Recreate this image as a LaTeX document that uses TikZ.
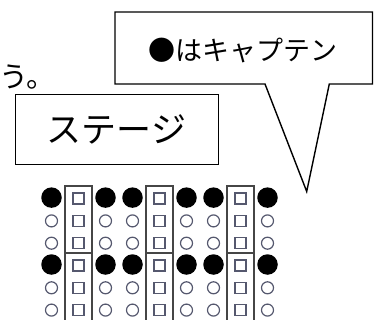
\documentclass[tikz,border=0pt]{standalone}
\usepackage{fontspec}
\newfontfamily\jp{Noto Sans CJK JP}
\definecolor{ring}{RGB}{85,88,110}
\definecolor{boxline}{RGB}{70,70,70}
\tikzset{
  outline/.style={draw=black,line width=1.4pt},
  jptext/.style={inner sep=0pt,font=\jp},
  fillcirc/.style={circle,fill=black,minimum size=20.5pt,inner sep=0pt},
  smallcirc/.style={circle,draw=ring,line width=1.2pt,minimum size=12pt,inner sep=0pt},
  smallsq/.style={rectangle,draw=ring,line width=1.3pt,minimum size=11pt,inner sep=0pt},
  colbox/.style={draw=boxline,line width=1.5pt}
}
\begin{document}
\begin{tikzpicture}[x=1pt,y=-1pt]
\useasboundingbox (0,0) rectangle (374,320);
\clip (0,0) rectangle (374,320);
% partial sentence text at left
\node[jptext,anchor=base west,font=\jp\fontsize{29}{29}\selectfont] (sent) at (-1,88) {う。};
% stage box
\node[outline,minimum width=203pt,minimum height=70pt,inner sep=0pt] (stage) at (116.7,129.3) {};
\node[jptext,font=\jp\fontsize{35}{35}\selectfont] (stagetxt) at (116.5,129) {ステージ};
% callout
\coordinate (c1) at (115,12);
\coordinate (c2) at (372.5,12);
\coordinate (c3) at (372.5,84);
\coordinate (t1) at (329.3,84);
\coordinate (tip) at (306.7,191.5);
\coordinate (t2) at (265,84);
\coordinate (c4) at (115,84);
\draw[outline,line join=miter] (c1) -- (c2) -- (c3) -- (t1) -- (tip) -- (t2) -- (c4) -- cycle;
\node[jptext,font=\jp\fontsize{27}{27}\selectfont] (captxt) at (243,50) {●はキャプテン};
% column boxes
\foreach \c in {1,4,7}{
  \pgfmathsetmacro{\xx}{51.5+27*\c}
  \draw[colbox] (\xx-13.5,186) rectangle (\xx+13.5,253);
  \draw[colbox] (\xx-13.5,253) rectangle (\xx+13.5,330);
}
% grid of seats
\foreach \c in {0,...,8}{
  \foreach \r in {0,...,5}{
    \pgfmathsetmacro{\xx}{51.5+27*\c}
    \pgfmathsetmacro{\yy}{198.6+22.3*\r}
    \pgfmathtruncatemacro{\cm}{mod(\c,3)}
    \pgfmathtruncatemacro{\rm}{mod(\r,3)}
    \ifnum\cm=1
      \node[smallsq] (s-\c-\r) at (\xx,\yy) {};
    \else
      \ifnum\rm=0
        \node[fillcirc] (s-\c-\r) at (\xx,\yy-1) {};
      \else
        \node[smallcirc] (s-\c-\r) at (\xx,\yy) {};
      \fi
    \fi
  }
}
\end{tikzpicture}
\end{document}
